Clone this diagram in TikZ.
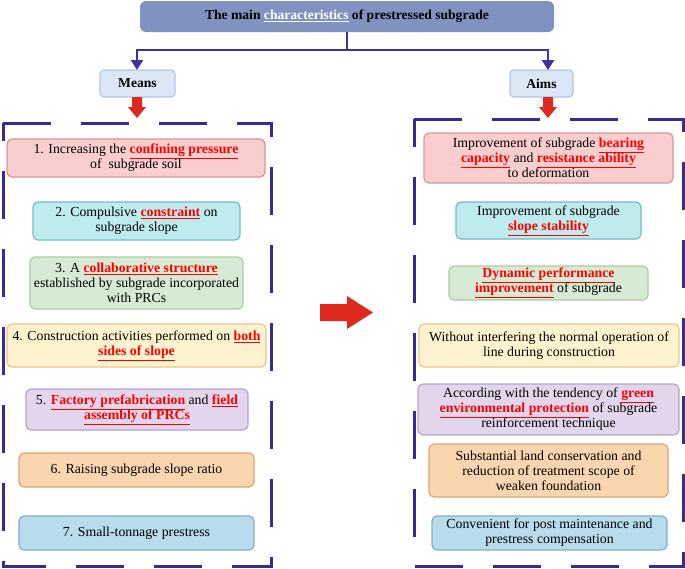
\documentclass[tikz,border=0pt]{standalone}
\usepackage{fontspec}
\setmainfont{Liberation Serif}
\usetikzlibrary{arrows.meta}
\definecolor{dashc}{RGB}{58,42,150}
\definecolor{connc}{RGB}{62,50,160}
\definecolor{titlef}{RGB}{127,146,192}
\definecolor{headf}{RGB}{220,230,245}
\definecolor{headd}{RGB}{180,198,231}
\definecolor{arrowred}{RGB}{222,42,30}
\definecolor{pinkf}{RGB}{250,206,206}\definecolor{pinkd}{RGB}{214,150,150}
\definecolor{cyanf}{RGB}{190,236,238}\definecolor{cyand}{RGB}{110,190,196}
\definecolor{greenf}{RGB}{214,234,212}\definecolor{greend}{RGB}{168,206,160}
\definecolor{yellowf}{RGB}{255,242,206}\definecolor{yellowd}{RGB}{228,200,140}
\definecolor{purplef}{RGB}{226,214,236}\definecolor{purpled}{RGB}{186,160,206}
\definecolor{orangef}{RGB}{250,214,176}\definecolor{oranged}{RGB}{216,168,110}
\definecolor{bluef}{RGB}{184,220,236}\definecolor{blued}{RGB}{126,176,204}
\newcommand{\hl}[1]{\textcolor{red}{\bfseries\underline{#1}}}
\begin{document}
\begin{tikzpicture}[x=1pt,y=-1pt,
  every node/.style={font=\fontsize{13.8}{15}\selectfont, align=center, inner sep=0pt},
  item/.style={draw=#1d, fill=#1f, rounded corners=5pt, line width=1.2pt},
  head/.style={draw=headd, fill=headf, rounded corners=4pt, line width=1.2pt, font=\fontsize{13.6}{15}\selectfont\bfseries},
  conn/.style={draw=connc, line width=2.5pt, -{Triangle[width=12pt,length=10pt]}},
  frame/.style={draw=dashc, line width=3pt, dash pattern=on 48pt off 30pt}
]
\useasboundingbox (0,0) rectangle (685,568);
% title
\node[fill=titlef, rounded corners=6pt, minimum width=414pt, minimum height=31pt,
  font=\fontsize{13.6}{15}\selectfont\bfseries] (title) at (347,16.5)
  {The main \textcolor{white}{\underline{characteristics}} of prestressed subgrade};
\node[head, minimum width=75pt, minimum height=27pt] (means) at (137.5,83.5) {Means};
\node[head, minimum width=63pt, minimum height=27pt] (aims) at (541.5,83.5) {Aims};
\coordinate (j) at (347,50);
\coordinate (aimsin) at (548,70);
\coordinate (meansin) at (137,70);
\draw[connc, line width=2.5pt] (title.south) -- (j);
\draw[conn] (j) -| (meansin);
\draw[conn] (j) -| (aimsin);
% frames
\draw[frame] (3,123) -- (271,123) -- (271,566) -- (3,566) -- cycle;
\draw[frame] (414,119) -- (683,119) -- (683,566) -- (414,566) -- cycle;
% small red arrows
\fill[arrowred] (132,97) -- (142,97) -- (142,107) -- (146,107) -- (137,118) -- (128,107) -- (132,107) -- cycle;
\fill[arrowred] (543,97) -- (553,97) -- (553,107) -- (557,107) -- (548,118) -- (539,107) -- (543,107) -- cycle;
% big red arrow
\fill[arrowred] (320,304) -- (347,304) -- (347,296) -- (373,312.5) -- (347,329) -- (347,321) -- (320,321) -- cycle;
% left boxes
\node[item=pink, minimum width=258pt, minimum height=38pt] (m1) at (136,158)
  {1. Increasing the \hl{confining pressure}\\of\ \ subgrade soil};
\node[item=cyan, minimum width=207pt, minimum height=38pt] (m2) at (136.5,221)
  {2. Compulsive \hl{constraint} on\\subgrade slope};
\node[item=green, minimum width=213pt, minimum height=52pt] (m3) at (136.5,283)
  {3. A \hl{collaborative structure}\\established by subgrade incorporated\\with PRCs};
\node[item=yellow, minimum width=259pt, minimum height=43pt] (m4) at (136.5,345.5)
  {4. Construction activities performed on \hl{both}\\\hl{sides of slope}};
\node[item=purple, minimum width=222pt, minimum height=41pt] (m5) at (137,409.5)
  {5. \hl{Factory prefabrication} and \hl{field}\\\hl{assembly of PRCs}};
\node[item=orange, minimum width=235pt, minimum height=34pt] (m6) at (136.5,470)
  {6. Raising subgrade slope ratio};
\node[item=blue, minimum width=235pt, minimum height=34pt] (m7) at (136.5,533)
  {7. Small-tonnage prestress};
% right boxes
\node[item=pink, minimum width=249pt, minimum height=50pt] (a1) at (548.5,158)
  {Improvement of subgrade \hl{bearing}\\\hl{capacity} and \hl{resistance ability}\\to deformation};
\node[item=cyan, minimum width=185pt, minimum height=37pt] (a2) at (548.5,220.5)
  {Improvement of subgrade\\\hl{slope stability}};
\node[item=green, minimum width=199pt, minimum height=34pt] (a3) at (548.5,283)
  {\hl{Dynamic performance}\\\hl{improvement} of subgrade};
\node[item=yellow, minimum width=260pt, minimum height=43pt] (a4) at (549,345.5)
  {Without interfering the normal operation of\\line during construction};
\node[item=purple, minimum width=261pt, minimum height=51pt] (a5) at (548.5,409.5)
  {According with the tendency of \hl{green}\\\hl{environmental protection} of subgrade\\reinforcement technique};
\node[item=orange, minimum width=239pt, minimum height=53pt] (a6) at (548.5,470.5)
  {Substantial land conservation and\\reduction of treatment scope of\\weaken foundation};
\node[item=blue, minimum width=235pt, minimum height=34pt] (a7) at (549.5,533)
  {Convenient for post maintenance and\\prestress compensation};
\end{tikzpicture}
\end{document}
